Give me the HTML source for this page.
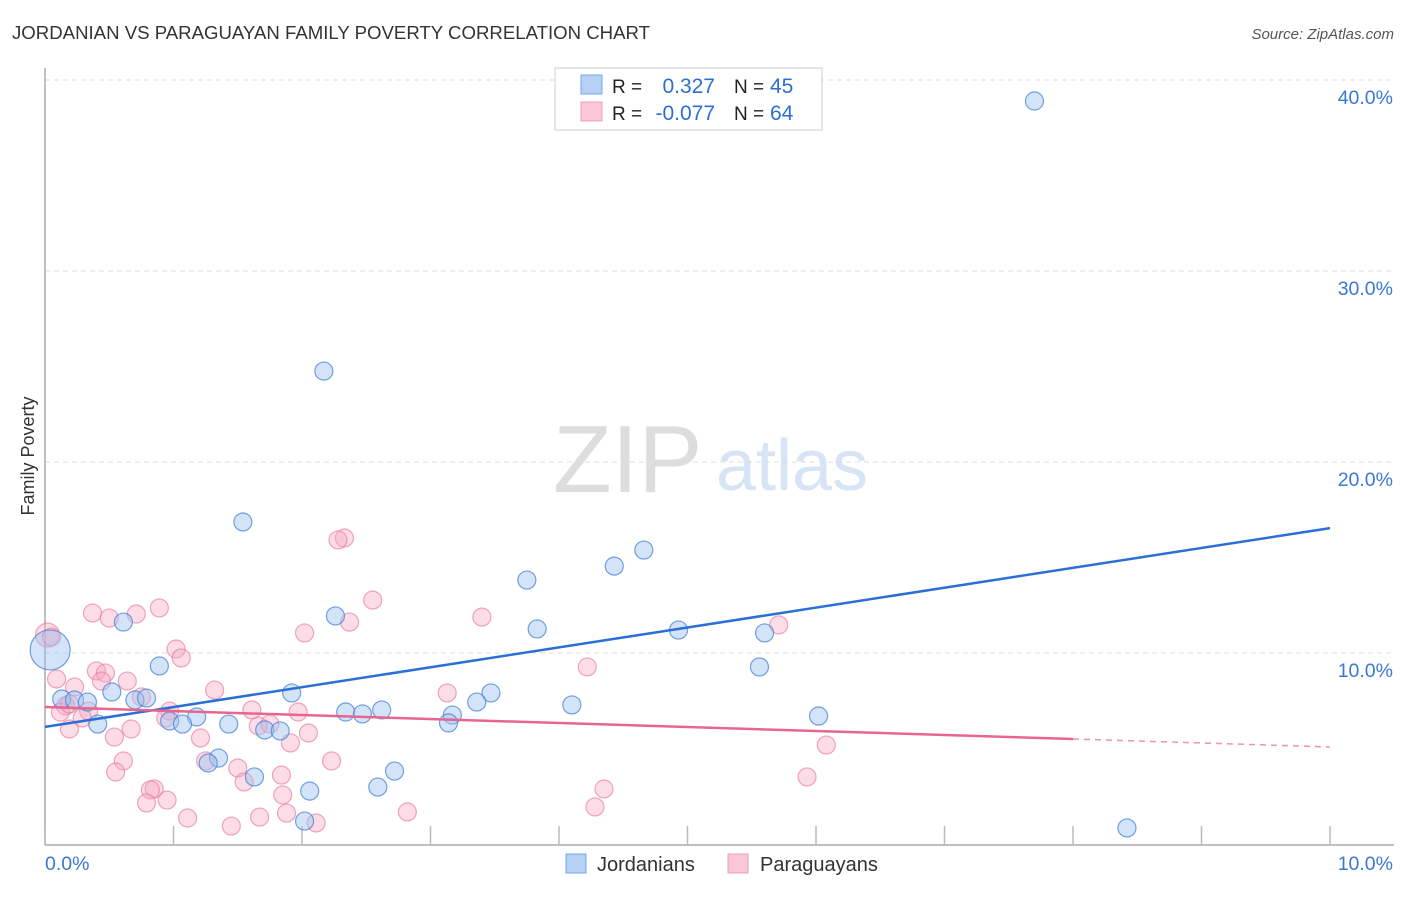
<!DOCTYPE html>
<html><head><meta charset="utf-8"><style>
body{margin:0;background:#fff;font-family:"Liberation Sans",sans-serif;}
svg text{font-family:"Liberation Sans",sans-serif;}
</style></head><body>
<svg id="chart" width="1406" height="892">
<text x="12" y="39" font-size="18" fill="#333" textLength="638" lengthAdjust="spacingAndGlyphs">JORDANIAN VS PARAGUAYAN FAMILY POVERTY CORRELATION CHART</text>
<text x="1394" y="39" font-size="15" fill="#555" font-style="italic" text-anchor="end">Source: ZipAtlas.com</text>
<g>
<text x="553" y="492" font-size="96" fill="#ddd" font-family="Liberation Serif,serif">ZIP</text>
<text x="716" y="490" font-size="72" fill="#d6e4f6">atlas</text>
</g>
<g id="grid"></g>
<g id="axes"></g>
<g id="pts"></g>
<g id="lines"></g>
<text transform="translate(34,456) rotate(-90)" font-size="18" fill="#333" text-anchor="middle">Family Poverty</text>
<g>
<rect x="555" y="68" width="267" height="62" fill="#fff" stroke="#ccc"/>
<rect x="581" y="75" width="21" height="19" fill="#b6d0f5" stroke="#7aa6e6"/>
<rect x="581" y="102" width="21" height="19" fill="#fbc6d6" stroke="#ee9fb8"/>
<text x="612" y="93" font-size="19" fill="#222">R =</text>
<text x="715" y="93" font-size="21" fill="#2d6fd0" text-anchor="end">0.327</text>
<text x="734" y="93" font-size="19" fill="#222">N =</text>
<text x="770" y="93" font-size="21" fill="#2d6fd0">45</text>
<text x="612" y="120" font-size="19" fill="#222">R =</text>
<text x="715" y="120" font-size="21" fill="#2d6fd0" text-anchor="end">-0.077</text>
<text x="734" y="120" font-size="19" fill="#222">N =</text>
<text x="770" y="120" font-size="21" fill="#2d6fd0">64</text>
</g>
<g>
<rect x="566" y="854" width="20" height="19" fill="#b6d0f5" stroke="#7aa6e6"/>
<text x="597" y="871" font-size="20" fill="#333">Jordanians</text>
<rect x="728" y="854" width="20" height="19" fill="#fbc6d6" stroke="#ee9fb8"/>
<text x="760" y="871" font-size="20" fill="#333">Paraguayans</text>
</g>
</svg>
<script>
const yTicks=[10,20,30,40];
const yTickLabels=["10.0%","20.0%","30.0%","40.0%"];
const xTickVals=[0,1,2,3,4,5,6,7,8,9,10];
const xEndLabels=["0.0%","10.0%"];
const blueX=[7.70,2.17,1.54,4.66,4.43,3.75,2.26,0.61,3.83,4.93,5.60,0.89,5.56,0.52,1.92,3.47,0.13,0.23,0.33,0.70,0.79,3.36,4.10,2.62,2.34,2.47,1.18,3.17,0.97,1.07,0.41,1.43,6.02,3.14,1.71,1.83,1.35,1.27,1.63,2.72,2.59,2.06,2.02,8.42,0.04];
const blueY=[38.90,24.76,16.86,15.39,14.55,13.82,11.94,11.62,11.26,11.20,11.05,9.32,9.27,7.96,7.91,7.91,7.59,7.54,7.43,7.54,7.64,7.43,7.28,7.02,6.91,6.81,6.65,6.75,6.44,6.28,6.28,6.28,6.70,6.34,5.97,5.92,4.50,4.24,3.51,3.82,2.98,2.77,1.20,0.84,10.16];
const blueSize=[9,9,9,9,9,9,9,9,9,9,9,9,9,9,9,9,9,9,9,9,9,9,9,9,9,9,9,9,9,9,9,9,9,9,9,9,9,9,9,9,9,9,9,9,20];
const pinkX=[0.02,0.05,2.33,2.28,0.89,0.37,0.71,0.50,2.55,3.40,2.37,2.02,5.71,1.02,1.06,4.22,0.40,0.47,0.09,0.23,0.44,0.64,1.32,3.13,0.75,0.16,0.34,0.12,1.61,1.97,0.97,0.94,0.29,0.19,0.67,1.66,1.75,2.05,1.91,1.21,0.54,1.25,0.61,2.23,1.50,0.55,1.84,1.55,4.35,0.85,0.82,1.85,0.95,0.79,6.08,5.93,2.82,1.88,1.11,4.28,1.67,2.11,1.45,0.19];
const pinkY=[10.94,10.84,16.02,15.92,12.36,12.09,12.04,11.83,12.77,11.88,11.62,11.05,11.47,10.21,9.74,9.27,9.06,8.95,8.64,8.22,8.53,8.53,8.06,7.91,7.70,7.23,6.96,6.91,7.02,6.91,6.96,6.60,6.60,6.02,6.02,6.18,6.28,5.81,5.29,5.55,5.60,4.35,4.35,4.35,3.98,3.77,3.61,3.25,2.88,2.88,2.83,2.57,2.30,2.15,5.18,3.51,1.68,1.62,1.36,1.94,1.41,1.10,0.94,7.33];
const blueTrend=[6.13,16.54];
const pinkTrend=[7.17,5.08];
const pinkSolidEnd=8;

const NS="http://www.w3.org/2000/svg";
const X0=45,X1=1330,Y0=844,YPER=19.1;
const sx=v=>X0+(X1-X0)*v/10;
const sy=v=>Y0-v*YPER;
function mk(tag,attrs,parent){const e=document.createElementNS(NS,tag);for(const k in attrs)e.setAttribute(k,attrs[k]);parent.appendChild(e);return e;}
const grid=document.getElementById('grid'),axes=document.getElementById('axes'),pts=document.getElementById('pts'),lines=document.getElementById('lines');
yTicks.forEach((t,i)=>{
 const g=mk('line',{x1:X0,x2:1394,y1:sy(t),y2:sy(t),stroke:'#ddd','stroke-dasharray':'5,4'},grid);
 
 
 const l=mk('text',{x:1393,y:sy(t)+24,'font-size':19.5,fill:'#3a78d4','text-anchor':'end'},axes);
 l.textContent=yTickLabels[i];
 
 
});
const ya=mk('line',{x1:X0,x2:X0,y1:68,y2:845,stroke:'#aaa','stroke-width':1.5},axes);


const xa=mk('line',{x1:X0,x2:1394,y1:845,y2:845,stroke:'#aaa','stroke-width':1.5},axes);


xTickVals.forEach(t=>{
 const tk=mk('line',{x1:sx(t),x2:sx(t),y1:826,y2:845,stroke:'#bbb','stroke-width':1.5},axes);
 
 
});
[[0,'start',45],[10,'end',1393]].forEach((d,i)=>{
 const l=mk('text',{x:d[2],y:870,'font-size':19.5,fill:'#3a78d4','text-anchor':d[1]},axes);
 l.textContent=xEndLabels[i];
 
 
});
pinkX.forEach((v,i)=>{
 const c=mk('circle',{cx:sx(v),cy:sy(pinkY[i]),r:i<1?12:9,fill:'rgba(246,168,194,0.4)',stroke:'rgba(232,120,155,0.65)','stroke-width':1.2},pts);
 
 
});
blueX.forEach((v,i)=>{
 const c=mk('circle',{cx:sx(v),cy:sy(blueY[i]),r:blueSize[i],fill:'rgba(160,195,240,0.45)',stroke:'rgba(70,130,215,0.75)','stroke-width':1.2},pts);
 
 
});
const bl=mk('line',{x1:sx(0),y1:sy(blueTrend[0]),x2:sx(10),y2:sy(blueTrend[1]),stroke:'#2a6fd6','stroke-width':2.5},lines);


const pAt=x=>pinkTrend[0]+(pinkTrend[1]-pinkTrend[0])*x/10;
const pl=mk('line',{x1:sx(0),y1:sy(pAt(0)),x2:sx(pinkSolidEnd),y2:sy(pAt(pinkSolidEnd)),stroke:'#e8658f','stroke-width':2.5},lines);


const pd=mk('line',{x1:sx(pinkSolidEnd),y1:sy(pAt(pinkSolidEnd)),x2:sx(10),y2:sy(pAt(10)),stroke:'#e8658f','stroke-width':1.5,'stroke-dasharray':'6,5','opacity':0.7},lines);


</script>
</body></html>
